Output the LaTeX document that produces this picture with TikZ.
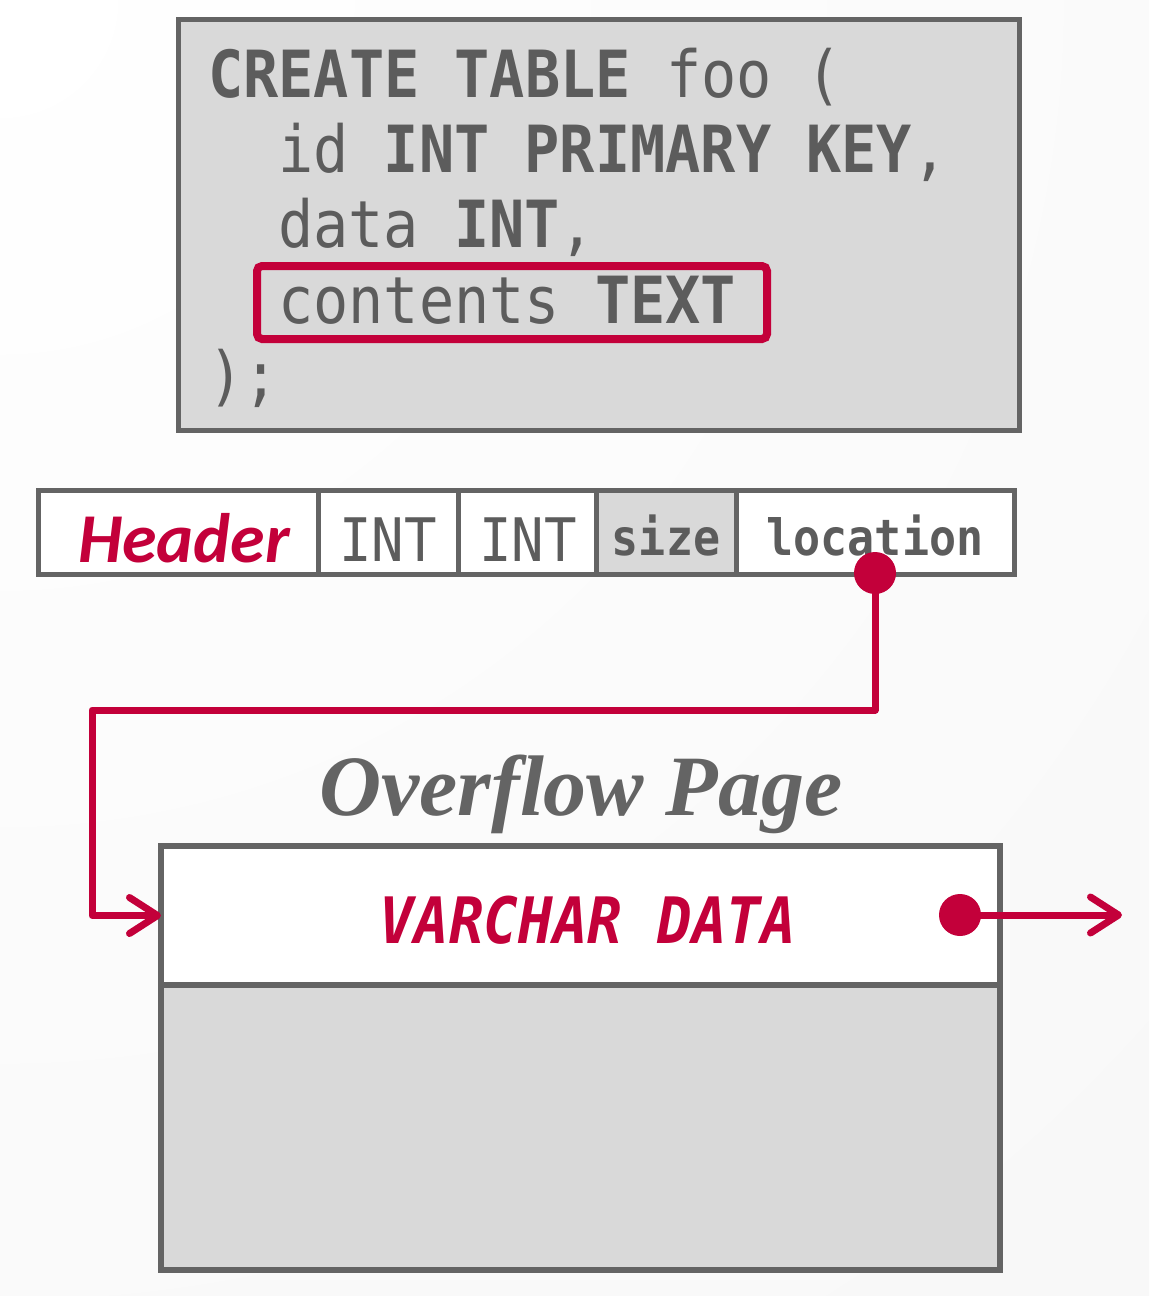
\documentclass[tikz,border=0pt]{standalone}
\usepackage{fontspec}
\usetikzlibrary{arrows.meta}
\newfontfamily\codefont[FakeStretch=0.9,
  BoldFont={DejaVu Sans Mono Bold},
  ItalicFont={DejaVu Sans Mono Oblique},
  BoldItalicFont={DejaVu Sans Mono Bold Oblique}]{DejaVu Sans Mono}
\newfontfamily\hdrfont{Carlito}
\newfontfamily\titlefont{Liberation Serif}
\definecolor{dbred}{HTML}{C3003A}
\definecolor{linegray}{HTML}{646464}
\definecolor{textgray}{HTML}{5C5C5C}
\definecolor{boxgray}{HTML}{D9D9D9}
\definecolor{bggray}{HTML}{F4F4F4}
\begin{document}
\begin{tikzpicture}[x=1pt,y=-1pt,
  box/.style={draw=linegray, line width=5pt, inner sep=0pt, outer sep=0pt},
  codetxt/.style={inner sep=0pt, anchor=base west, text=textgray,
    font=\codefont\fontsize{65}{75}\selectfont},
  celltxt/.style={inner sep=0pt, anchor=base, text=textgray},
  redline/.style={draw=dbred, line width=7pt, line join=round, line cap=round},
  reddot/.style={circle, fill=dbred, minimum size=42pt, inner sep=0pt},
  barb/.style={-{Straight Barb[length=28pt,width=36pt,round]}}]
\useasboundingbox (0,0) rectangle (1149,1296);
\begin{scope}
  \clip (0,0) rectangle (1149,1296);
  \shade[inner color=white, outer color=bggray] (0,0) circle (2600);
\end{scope}

% code box
\node[box, fill=boxgray, minimum width=841pt, minimum height=411pt] (code) at (598.5,224.5) {};
\node[codetxt] (l1) at (208,97) {\bfseries CREATE TABLE\mdseries{} foo (};
\node[codetxt] (l2) at (278,172) {id \bfseries INT PRIMARY KEY\mdseries,};
\node[codetxt] (l3) at (278,247) {data \bfseries INT\mdseries,};
\node[codetxt] (l4) at (278,323) {contents \bfseries TEXT};
\node[codetxt] (l5) at (208,398) {);};
\node[draw=dbred, line width=8pt, rounded corners=5pt, minimum width=510pt, minimum height=73pt, inner sep=0pt] (hl) at (512,302.5) {};

% record
\node[box, fill=white, minimum width=280pt, minimum height=84pt] (hdr) at (178,532) {};
\node[box, fill=white, minimum width=140pt, minimum height=84pt] (int1) at (388,532) {};
\node[box, fill=white, minimum width=138pt, minimum height=84pt] (int2) at (527,532) {};
\node[box, fill=boxgray, minimum width=140pt, minimum height=84pt] (size) at (666,532) {};
\node[box, fill=white, minimum width=278pt, minimum height=84pt] (loc) at (875,532) {};
\node[celltxt, text=dbred, font=\hdrfont\bfseries\itshape\fontsize{70}{80}\selectfont] (thdr) at (184,562) {Header};
\node[celltxt, font=\codefont\fontsize{60}{70}\selectfont] (tint1) at (388,561) {INT};
\node[celltxt, font=\codefont\fontsize{60}{70}\selectfont] (tint2) at (528,561) {INT};
\node[celltxt, font=\codefont\bfseries\fontsize{50}{60}\selectfont] (tsize) at (666,555) {size};
\node[celltxt, font=\codefont\bfseries\fontsize{50}{60}\selectfont] (tloc) at (875,555) {location};

% overflow page
\node[celltxt, text=linegray, font=\titlefont\bfseries\itshape\fontsize{86}{94}\selectfont] (title) at (581,815) {Overflow Page};
\node[box, line width=5.5pt, fill=white, minimum width=839pt, minimum height=139pt] (ovtop) at (580.5,915.5) {};
\node[box, line width=5.5pt, fill=boxgray, minimum width=839pt, minimum height=285pt] (ovbot) at (580.5,1127.5) {};
\node[celltxt, text=dbred, font=\codefont\bfseries\itshape\fontsize{64}{70}\selectfont] (tvar) at (588,943) {VARCHAR DATA};

% pointers
\node[reddot] (dotloc) at (875,573) {};
\node[reddot] (dotvar) at (960,915) {};
\coordinate (nxt) at (1122,915);
\draw[redline, barb] (dotloc.center) -- (875,710) -- (92,710) |- (ovtop.west);
\draw[redline, barb] (dotvar.center) -- (nxt);
\end{tikzpicture}
\end{document}
